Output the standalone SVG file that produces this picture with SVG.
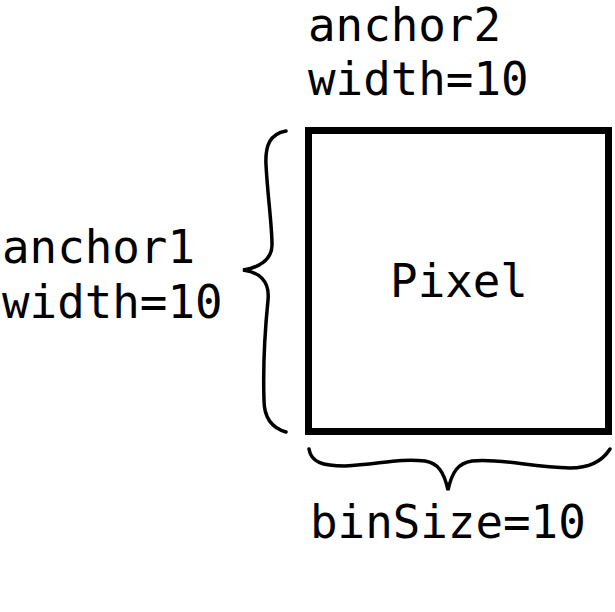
<svg xmlns="http://www.w3.org/2000/svg" width="615" height="612" viewBox="0 0 615 612">
<style>
text{font-family:"DejaVu Sans Mono","Liberation Mono",monospace;font-size:45.8px;fill:#000}
.brace{fill:none;stroke:#000;stroke-width:3.5;stroke-linecap:round}
</style>
<rect width="615" height="612" fill="#fff"/>
<g id="pixel">
<rect x="308.5" y="130.5" width="300" height="301" fill="none" stroke="#000" stroke-width="7"/>
<text x="459" y="297" text-anchor="middle">Pixel</text>
</g>
<g id="anchor2">
<text x="308" y="41">anchor2</text>
<text x="308" y="95">width=10</text>
</g>
<g id="anchor1">
<text x="2" y="263">anchor1</text>
<text x="2" y="318">width=10</text>
</g>
<g id="binSize">
<text x="310" y="538">binSize=10</text>
</g>
<g id="connectors">
<path class="brace" d="M286,131 C270,134 265,145 266,165 C268,200 272,225 272,245 C272,260 258,268 243,270 C258,272 270,280 268,300 C265,330 263,370 264,400 C264,418 272,428 286,432"/>
<path class="brace" d="M309,449 C311,462 322,466 345,466 C380,464 400,458 425,461 C438,463 444,472 448,490 C452,472 458,463 472,461 C500,458 530,467 570,468 C592,468 603,460 610,449"/>
</g>
</svg>
